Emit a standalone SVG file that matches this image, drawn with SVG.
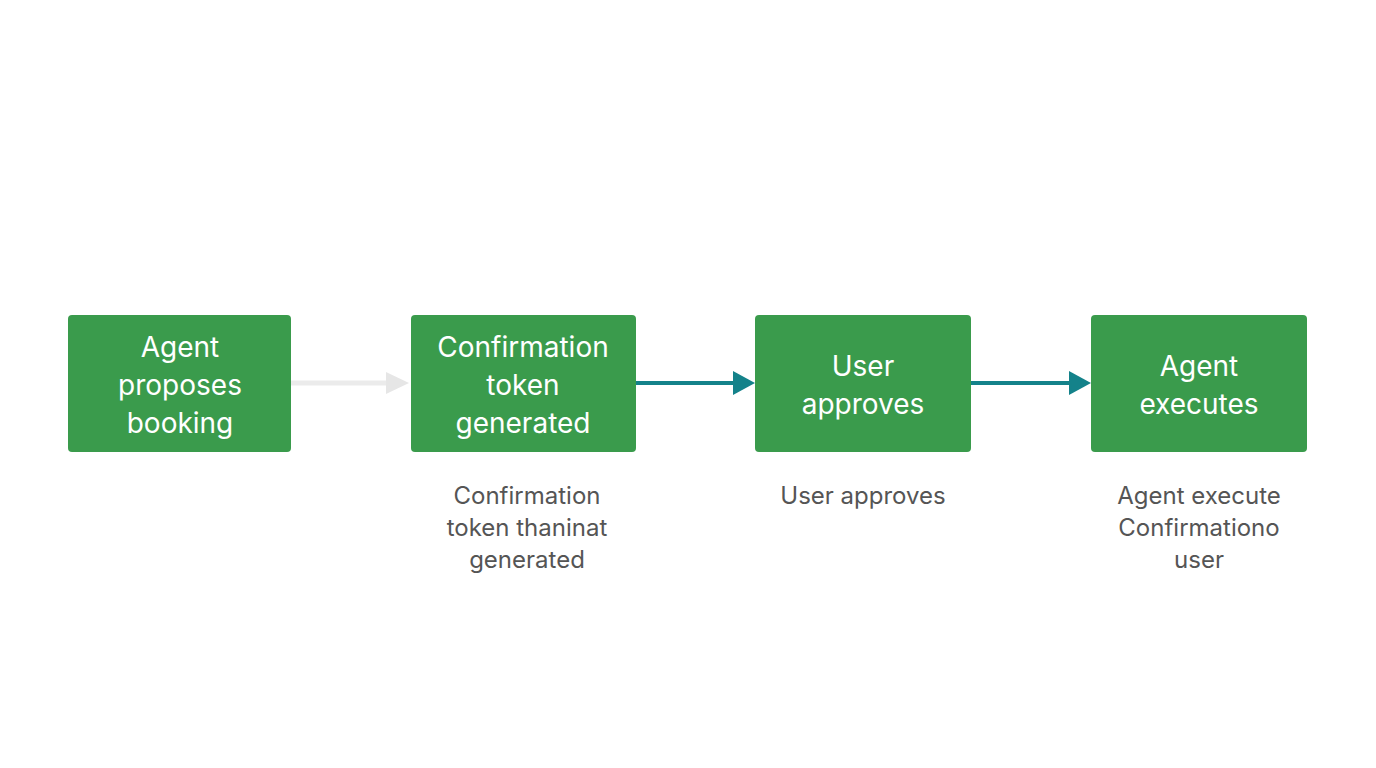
<svg xmlns="http://www.w3.org/2000/svg" width="1376" height="768" viewBox="0 0 1376 768">
<style>
.box{fill:#3a9b4c}
.t{font-family:Inter,"Liberation Sans",sans-serif;font-size:28px;fill:#fff;text-anchor:middle}
.c{font-family:Inter,"Liberation Sans",sans-serif;font-size:24px;fill:#555;text-anchor:middle}
</style>
<defs>
<marker id="ag" markerWidth="6" markerHeight="6" refX="5" refY="3" orient="auto" markerUnits="userSpaceOnUse" viewBox="0 0 6 6"><path d="M0,0L6,3L0,6z" fill="#e6e6e6"/></marker>
<marker id="at" viewBox="0 0 6 6" refX="5" refY="3" markerWidth="22" markerHeight="22" orient="auto" markerUnits="userSpaceOnUse"><path d="M0,0L6,3L0,6z" fill="#14828a"/></marker>
</defs>
<rect width="1376" height="768" fill="#fff"/>
<g id="connectors">
<line x1="291" y1="383" x2="388" y2="383" stroke="#ebebeb" stroke-width="5"/>
<path d="M386,372L409,383L386,394z" fill="#e6e6e6"/>
<line x1="636" y1="383" x2="736" y2="383" stroke="#14828a" stroke-width="4"/>
<path d="M733,371L755,383L733,395z" fill="#14828a"/>
<line x1="971" y1="383" x2="1072" y2="383" stroke="#14828a" stroke-width="4"/>
<path d="M1069,371L1091,383L1069,395z" fill="#14828a"/>
</g>
<g id="n1"><rect class="box" x="68" y="315" width="223" height="137" rx="4"/>
<text class="t" x="180" y="357">Agent</text><text class="t" x="180" y="395">proposes</text><text class="t" x="180" y="433">booking</text></g>
<g id="n2"><rect class="box" x="411" y="315" width="225" height="137" rx="4"/>
<text class="t" x="523" y="357">Confirmation</text><text class="t" x="523" y="395">token</text><text class="t" x="523" y="433">generated</text></g>
<g id="n3"><rect class="box" x="755" y="315" width="216" height="137" rx="4"/>
<text class="t" x="863" y="376">User</text><text class="t" x="863" y="414">approves</text></g>
<g id="n4"><rect class="box" x="1091" y="315" width="216" height="137" rx="4"/>
<text class="t" x="1199" y="376">Agent</text><text class="t" x="1199" y="414">executes</text></g>
<g id="captions">
<text class="c" x="527" y="504">Confirmation</text><text class="c" x="527" y="536">token thaninat</text><text class="c" x="527" y="568">generated</text>
<text class="c" x="863" y="504">User approves</text>
<text class="c" x="1199" y="504">Agent execute</text><text class="c" x="1199" y="536">Confirmationo</text><text class="c" x="1199" y="568">user</text>
</g>
</svg>
